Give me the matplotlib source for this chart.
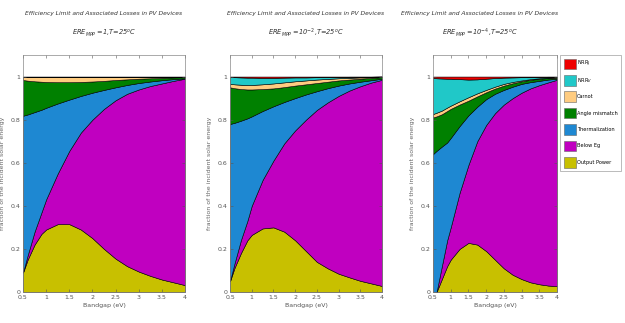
import numpy as np
import matplotlib
matplotlib.use("Agg")
import matplotlib.pyplot as plt
from matplotlib.patches import Patch

# bandgap grid (eV)
x = [0.5, 0.6, 0.75, 0.9, 1.0, 1.25, 1.5, 1.75, 2.0, 2.25, 2.5, 2.75, 3.0, 3.25, 3.5, 3.75, 4.0]

# cumulative layer tops (bottom -> top)
# panel 1 : ERE = 1
out1 = [0.09, 0.15, 0.22, 0.27, 0.29, 0.315, 0.315, 0.29, 0.25, 0.20, 0.155, 0.12, 0.095, 0.075, 0.058, 0.045, 0.032]
beg1 = [0.09, 0.17, 0.28, 0.37, 0.43, 0.55, 0.655, 0.74, 0.80, 0.85, 0.89, 0.92, 0.94, 0.956, 0.968, 0.98, 0.99]
thm1 = [0.818, 0.824, 0.835, 0.846, 0.855, 0.875, 0.893, 0.91, 0.925, 0.938, 0.95, 0.961, 0.97, 0.977, 0.983, 0.988, 0.992]
ang1 = [0.984, 0.981, 0.978, 0.976, 0.975, 0.974, 0.974, 0.975, 0.977, 0.98, 0.984, 0.987, 0.99, 0.992, 0.994, 0.996, 0.997]
car1 = [1.0] * 17
nrv1 = [1.0] * 17
nrj1 = [1.0] * 17

# panel 2 : ERE = 1e-2
out2 = [0.05, 0.11, 0.18, 0.24, 0.265, 0.295, 0.30, 0.28, 0.24, 0.19, 0.14, 0.11, 0.085, 0.068, 0.052, 0.04, 0.028]
beg2 = [0.05, 0.13, 0.24, 0.33, 0.40, 0.52, 0.61, 0.69, 0.75, 0.80, 0.845, 0.88, 0.91, 0.935, 0.955, 0.972, 0.985]
thm2 = [0.78, 0.785, 0.795, 0.806, 0.815, 0.84, 0.862, 0.882, 0.90, 0.917, 0.932, 0.946, 0.958, 0.968, 0.976, 0.983, 0.99]
ang2 = [0.95, 0.946, 0.942, 0.94, 0.94, 0.942, 0.945, 0.951, 0.958, 0.964, 0.97, 0.976, 0.982, 0.986, 0.99, 0.994, 0.997]
car2 = [0.966, 0.964, 0.962, 0.961, 0.961, 0.964, 0.968, 0.973, 0.978, 0.982, 0.986, 0.989, 0.992, 0.994, 0.996, 0.997, 0.998]
nrv2 = [0.998, 0.997, 0.996, 0.995, 0.995, 0.994, 0.994, 0.995, 0.996, 0.996, 0.997, 0.998, 0.998, 0.999, 0.999, 0.999, 1.0]
nrj2 = [1.0] * 17

# panel 3 : ERE = 1e-4
out3 = [0.0, 0.0, 0.06, 0.12, 0.15, 0.20, 0.228, 0.22, 0.19, 0.15, 0.11, 0.08, 0.06, 0.045, 0.036, 0.03, 0.027]
beg3 = [0.0, 0.0, 0.12, 0.24, 0.30, 0.46, 0.59, 0.70, 0.775, 0.83, 0.87, 0.90, 0.925, 0.945, 0.96, 0.973, 0.985]
thm3 = [0.64, 0.655, 0.675, 0.694, 0.715, 0.77, 0.82, 0.86, 0.895, 0.92, 0.938, 0.953, 0.966, 0.974, 0.98, 0.986, 0.99]
ang3 = [0.81, 0.815, 0.825, 0.84, 0.85, 0.87, 0.888, 0.908, 0.927, 0.944, 0.958, 0.969, 0.978, 0.985, 0.99, 0.993, 0.995]
car3 = [0.826, 0.832, 0.842, 0.856, 0.865, 0.885, 0.904, 0.922, 0.938, 0.953, 0.966, 0.975, 0.982, 0.988, 0.992, 0.995, 0.997]
nrv3 = [0.993, 0.992, 0.991, 0.99, 0.99, 0.988, 0.986, 0.987, 0.99, 0.993, 0.995, 0.996, 0.997, 0.998, 0.998, 0.999, 0.999]
nrj3 = [1.0] * 17

labels = ['Output Power', 'Below Eg', 'Thermalization', 'Angle mismatch', 'Carnot', 'NRR$_V$', 'NRR$_J$']
colors = ['#c8c000', '#c000c0', '#1e88d2', '#008000', '#ffcc80', '#20c8c8', '#ee0000']
subtitles = ['ERE$_{MPP}$ =1,T=25$^{o}$C', 'ERE$_{MPP}$ =10$^{-2}$,T=25$^{o}$C', 'ERE$_{MPP}$ =10$^{-4}$,T=25$^{o}$C']
xticks = [0.5, 1, 1.5, 2, 2.5, 3, 3.5, 4]
xticklabels = ['0.5', '1', '1.5', '2', '2.5', '3', '3.5', '4']
yticks = [0, 0.2, 0.4, 0.6, 0.8, 1]
yticklabels = ['0', '0.2', '0.4', '0.6', '0.8', '1']

panels = [
    [out1, beg1, thm1, ang1, car1, nrv1, nrj1],
    [out2, beg2, thm2, ang2, car2, nrv2, nrj2],
    [out3, beg3, thm3, ang3, car3, nrv3, nrj3],
]

W, H = 625, 323
fig = plt.figure(figsize=(W / 100, H / 100), dpi=100)
boxes = [(23, 185), (230, 382), (433, 557)]
ytop, ybot = 55, 292

for i, (lims, tops) in enumerate(zip(boxes, panels)):
    ax = fig.add_axes([lims[0] / W, 1 - ybot / H, (lims[1] - lims[0]) / W, (ybot - ytop) / H])
    lower = np.zeros(len(x))
    for top, col in zip(tops, colors):
        top = np.array(top)
        ax.fill_between(x, lower, top, facecolor=col, edgecolor='black', linewidth=0.4)
        lower = top
    ax.set_xlim(0.5, 4)
    ax.set_ylim(0, 1.1)
    ax.set_xticks(xticks)
    ax.set_xticklabels(xticklabels)
    ax.set_yticks(yticks)
    ax.set_yticklabels(yticklabels)
    ax.tick_params(direction='in', length=2, width=0.4, labelsize=4.5, pad=2,
                   top=True, right=True, colors='#555555')
    for sp in ax.spines.values():
        sp.set_linewidth(0.5)
        sp.set_color('#888888')
    ax.set_xlabel('Bandgap (eV)', fontsize=4.5, labelpad=2, color='#555555')
    ax.set_ylabel('fraction of the incident solar energy', fontsize=4.5, labelpad=4, color='#666666')
    cx = (lims[0] + lims[1]) / 2 / W
    if i == 2:
        cx = 480 / W
    fig.text(cx, 1 - 14 / H, 'Efficiency Limit and Associated Losses in PV Devices', ha='center', va='center',
             fontsize=4.3, style='italic', color='#333333')
    fig.text(cx, 1 - 33 / H, subtitles[i], ha='center', va='center',
             fontsize=4.8, style='italic', color='#333333')

handles = [Patch(facecolor=c, edgecolor='#666666', linewidth=0.4, label=l) for c, l in zip(colors, labels)]
handles = handles[::-1]
leg = fig.legend(handles=handles, loc='upper left', bbox_to_anchor=(560 / W, 1 - 55 / H),
                 fontsize=3.6, handlelength=2.4, handleheight=2.9, borderpad=0.7,
                 labelspacing=1.15, handletextpad=0.3, borderaxespad=0, fancybox=False, edgecolor='#888888')
leg.get_frame().set_linewidth(0.5)

fig.savefig('out.png', dpi=100)
